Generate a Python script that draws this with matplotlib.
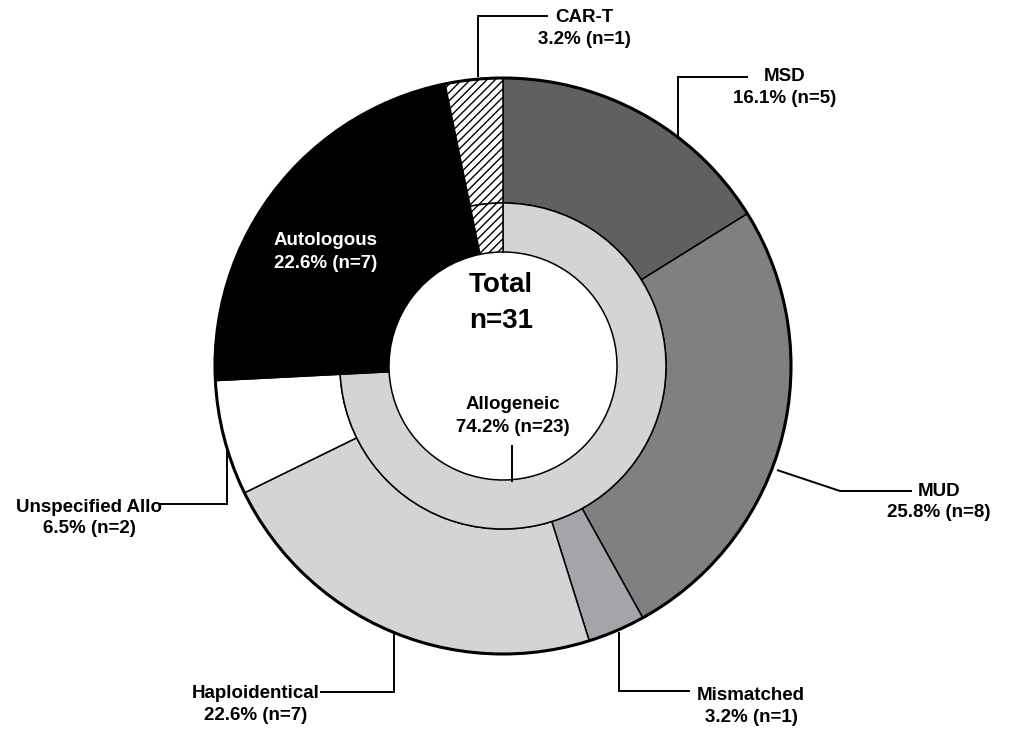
import matplotlib
matplotlib.use('Agg')
import matplotlib.pyplot as plt
from matplotlib.patches import Circle

# ---- data ----
outer_labels = ['MSD', 'MUD', 'Mismatched', 'Haploidentical', 'Unspecified Allo', 'Autologous', 'CAR-T']
outer_counts = [5, 8, 1, 7, 2, 7, 1]
outer_colors = ['#606060', '#808080', '#a4a4aa', '#d4d4d4', '#ffffff', '#000000', '#ffffff']
inner_labels = ['Allogeneic', 'Autologous', 'CAR-T']
inner_counts = [23, 7, 1]
inner_colors = ['#d4d4d4', '#000000', '#ffffff']
total = sum(outer_counts)

W, H = 1010, 730
fig = plt.figure(figsize=(W / 100, H / 100), dpi=100)
ax = fig.add_axes([0, 0, 1, 1])

def Y(y):
    return H - y

cx, cy = 503, Y(366)
R_out, R_mid, R_in = 288, 163, 114

w_out, _ = ax.pie(outer_counts, colors=outer_colors, radius=R_out, center=(cx, cy),
                  startangle=90, counterclock=False,
                  wedgeprops=dict(width=R_out - R_mid, edgecolor='black', linewidth=1.1))
w_in, _ = ax.pie(inner_counts, colors=inner_colors, radius=R_mid, center=(cx, cy),
                 startangle=90, counterclock=False,
                 wedgeprops=dict(width=R_mid - R_in, edgecolor='black', linewidth=1.1))
w_out[-1].set_hatch('////')
w_in[-1].set_hatch('////')
ax.add_patch(Circle((cx, cy), R_out, fill=False, edgecolor='black', linewidth=2.2, zorder=5))

ax.set_xlim(0, W)
ax.set_ylim(0, H)
ax.set_aspect('auto')
ax.axis('off')

FAM = ['Liberation Sans', 'DejaVu Sans']

def lab(n):
    return f"{100 * n / total:.1f}% (n={n})"

def leader(pts):
    ax.plot([p[0] for p in pts], [Y(p[1]) for p in pts], color='black', lw=1.4,
            solid_capstyle='butt', solid_joinstyle='miter', zorder=6)

def txt(x, y, s, color='black', size=13.5, ls=1.33):
    ax.text(x, Y(y), s, ha='center', va='center', fontsize=size, fontweight='bold',
            family=FAM, color=color, linespacing=ls, zorder=7)

# outer labels with leaders (layout positions)
idx = {k: i for i, k in enumerate(outer_labels)}
leader([(478, 77), (478, 16), (548, 16)])
txt(584, 28.5, f"CAR-T\n{lab(outer_counts[idx['CAR-T']])}")

leader([(678, 136), (678, 77), (748, 77)])
txt(785, 87.5, f"MSD\n{lab(outer_counts[idx['MSD']])}")

leader([(777, 470), (840, 491), (912, 491)])
txt(939, 502, f"MUD\n{lab(outer_counts[idx['MUD']])}")

leader([(619, 632), (619, 691), (690, 691)])
txt(751, 706.5, f"Mismatched\n{lab(outer_counts[idx['Mismatched']])}")

leader([(394, 633), (394, 692), (320, 692)])
txt(256, 704.5, f"Haploidentical\n{lab(outer_counts[idx['Haploidentical']])}")

leader([(227, 447), (227, 504), (159, 504)])
txt(89, 518, f"Unspecified Allo\n{lab(outer_counts[idx['Unspecified Allo']])}")

txt(326, 252, f"Autologous\n{lab(outer_counts[idx['Autologous']])}", color='white', ls=1.45)

leader([(512, 445), (512, 482)])
txt(513, 416, f"Allogeneic\n{lab(inner_counts[0])}", ls=1.5)

txt(501, 303.5, f"Total\nn={total}", size=20, ls=1.5)

fig.savefig('out.png', dpi=100)
